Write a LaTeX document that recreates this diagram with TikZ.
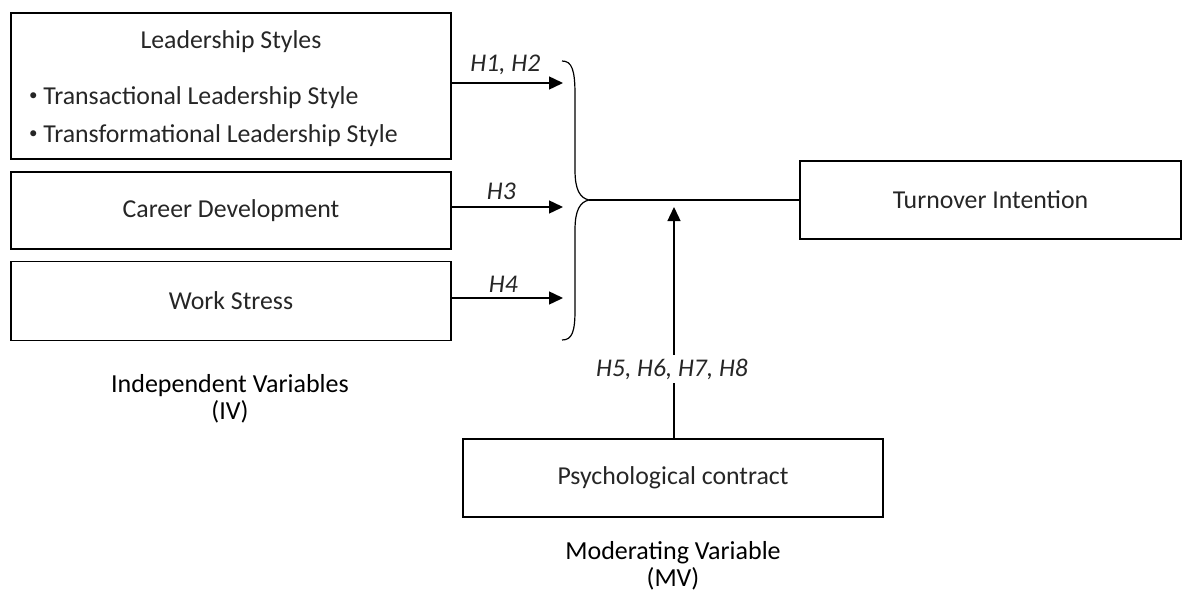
\documentclass[tikz,border=0pt]{standalone}
\usepackage{fontspec}
\setmainfont{Carlito}
\usetikzlibrary{arrows.meta}
\newcommand{\smallbul}{\raisebox{4pt}{\fontsize{17}{17}\selectfont\textbullet}\ }
\begin{document}
\begin{tikzpicture}
[
    x=1pt, y=-1pt,
    line width=1.4pt,
    boxfont/.style={text=black!85, font=\fontsize{25.8}{30}\selectfont},
    varbox/.style={draw, line width=1.2pt, inner sep=0pt, boxfont},
    hyp/.style={text=black!85, font=\fontsize{25.5}{30}\selectfont\itshape},
    caption/.style={align=center, font=\fontsize{26}{26.5}\selectfont},
    link/.style={-{Triangle[length=14pt,width=13pt]}},
]
\useasboundingbox (0,0) rectangle (1182,594);
\node[varbox, minimum width=440pt, minimum height=146pt] (lead) at (231,86) {};
\node[boxfont] (leadtitle) at (231,42) {Leadership Styles};
\node[boxfont, font=\fontsize{25.8}{38}\selectfont, align=left, anchor=west] (leadlist) at (25,117)
    {\smallbul Transactional Leadership Style\\ \smallbul Transformational Leadership Style};
\node[varbox, minimum width=440pt, minimum height=77pt] (career) at (231,210.5) {Career Development};
\node[varbox, minimum width=440pt, minimum height=79pt] (stress) at (231,301) {Work Stress};
\node[varbox, minimum width=381pt, minimum height=78pt] (turnover) at (990.5,200) {Turnover Intention};
\node[varbox, minimum width=420pt, minimum height=78pt] (psych) at (673,478) {Psychological contract};
\node[caption] (iv) at (230,399) {Independent Variables\\(IV)};
\node[caption] (mv) at (673,566) {Moderating Variable\\(MV)};

\coordinate (a1) at (563,83);
\coordinate (a2) at (563,207);
\coordinate (a3) at (563,298);
\coordinate (join) at (589,200);
\coordinate (mod) at (674,207);

\draw[link] (lead.east |- a1) -- (a1) node[hyp, midway, above=4pt, xshift=-2pt] (h12) {H1, H2};
\draw[link] (career.east |- a2) -- (a2) node[hyp, midway, above=3pt, xshift=-6pt] (h3) {H3};
\draw[link] (stress.east |- a3) -- (a3) node[hyp, midway, above=1pt, xshift=-4pt] (h4) {H4};

% brace
\draw[line width=1.2pt] (562,61) .. controls (572,61) and (575,70) .. (575,95) -- (575,170)
    .. controls (575,190) and (580,198) .. (join)
    .. controls (580,202) and (575,210) .. (575,230) -- (575,310)
    .. controls (575,332) and (572,340) .. (562,340);
\draw (join) -- (turnover.west);

\draw[link] (psych.north -| mod) -- (mod);
\node[hyp, fill=white, inner sep=4pt] (h58) at (672,369) {H5, H6, H7, H8};
\end{tikzpicture}
\end{document}
